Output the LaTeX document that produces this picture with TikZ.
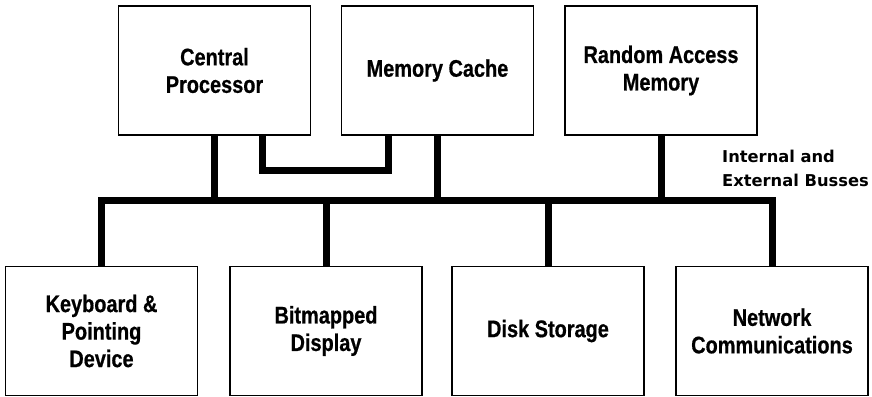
\documentclass[tikz,border=0pt]{standalone}
\usepackage{fontspec}
\setmainfont{Liberation Sans}[FakeStretch=0.83,BoldFeatures={FakeBold=0.6}]
\newfontfamily\lblfont{DejaVu Sans}
\usepackage{tikz}
\usetikzlibrary{positioning}
\tikzset{
  unit/.style={draw,line width=1.6pt,minimum width=192pt,minimum height=129pt,
    align=center,inner sep=0pt,font=\bfseries\fontsize{24}{27.5}\selectfont},
  bus/.style={line width=7pt},
  buslabel/.style={align=left,inner sep=0pt,font=\lblfont\bfseries\fontsize{16.3}{24}\selectfont}
}

\begin{document}
\begin{tikzpicture}[x=1pt,y=1pt]
\useasboundingbox (0,0) rectangle (872,-396);
% top row
\node[unit] (cpu) at (214.5,-70.5) {Central\\Processor};
\node[unit] (cache) at (437.5,-70.5) {Memory Cache};
\node[unit] (ram) at (661,-70.5) {Random Access\\Memory};
% bottom row
\node[unit] (kbd) at (101.5,-331) {Keyboard \&\\Pointing\\Device};
\node[unit] (disp) at (326,-331) {Bitmapped\\Display};
\node[unit] (disk) at (548,-331) {Disk Storage};
\node[unit] (net) at (772,-331) {Network\\Communications};
\coordinate (busy) at (0,-200);
% the bus
\draw[bus] (kbd.north) -- (kbd.north |- busy) -- (net.north |- busy) -- (net.north);
\draw[bus] (disp.north) -- (disp.north |- busy);
\draw[bus] (disk.north) -- (disk.north |- busy);
\draw[bus] (cpu.south) -- (cpu.south |- busy);
\draw[bus] (cache.south) -- (cache.south |- busy);
\draw[bus] (ram.south) -- (ram.south |- busy);
% processor to cache
\draw[bus] ([xshift=48pt]cpu.south) -- ++(0,-35) -| ([xshift=-49pt]cache.south);
\node[buslabel,anchor=north west] (buslbl) at (722,-150) {Internal and\\External Busses};
\end{tikzpicture}
\end{document}
